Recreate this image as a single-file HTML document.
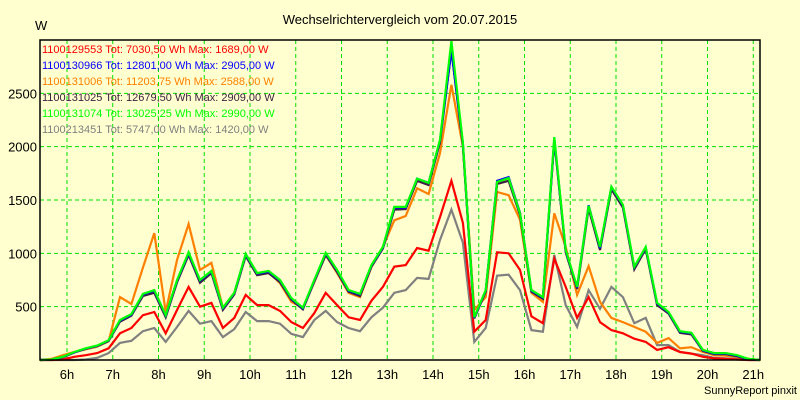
<!DOCTYPE html>
<html><head><meta charset="utf-8"><style>
html,body{margin:0;padding:0;background:#ffffd0;}
svg{display:block;font-family:"Liberation Sans",sans-serif;}
</style></head><body>
<svg id="chart" width="800" height="400" viewBox="0 0 800 400">
<rect x="0" y="0" width="800" height="400" fill="#ffffd0"/>
<text x="400" y="24" text-anchor="middle" font-size="13" fill="#000">Wechselrichtervergleich vom 20.07.2015</text>
<text x="35" y="30" font-size="13" fill="#000">W</text>
<text x="797" y="394" text-anchor="end" font-size="11" fill="#000">SunnyReport pinxit</text>
<g id="grid"></g>
<g id="series"></g>
<rect x="40" y="40" width="720" height="320" fill="none" stroke="#000" stroke-width="1.5"/>
<g id="axes"></g>
<g id="legend"></g>
</svg>
<script>
const yTicks = [500, 1000, 1500, 2000, 2500];
const hourTicks = [6,7,8,9,10,11,12,13,14,15,16,17,18,19,20,21];
const seriesNames = ["1100129553 Tot: 7030,50 Wh Max: 1689,00 W","1100130966 Tot: 12801,00 Wh Max: 2905,00 W","1100131006 Tot: 11203,75 Wh Max: 2588,00 W","1100131025 Tot: 12679,50 Wh Max: 2909,00 W","1100131074 Tot: 13025,25 Wh Max: 2990,00 W","1100213451 Tot: 5747,00 Wh Max: 1420,00 W"];
const seriesColors = ["#ff0000","#0000ff","#ff8000","#402040","#00ff00","#808080"];
const red = [0,0,5,30,45,65,110,250,300,420,450,250,470,685,500,535,300,395,610,515,515,460,355,300,440,630,515,400,375,555,685,875,890,1050,1025,1340,1680,1285,265,375,1010,1000,845,410,345,950,685,395,590,355,280,250,200,170,95,120,75,60,30,15,10,5,0,0];
const blue = [0,5,28,72,108,132,182,370,425,615,650,415,745,1000,745,830,485,625,990,810,830,745,575,485,745,1000,840,650,615,885,1055,1430,1430,1700,1660,2060,2905,2030,395,650,1680,1715,1380,650,585,2070,1025,680,1450,1050,1620,1450,870,1055,530,445,265,250,90,60,60,40,8,0];
const orange = [0,10,45,75,100,125,175,590,525,865,1190,450,940,1275,845,910,490,630,985,815,825,720,545,490,730,985,815,630,590,870,1060,1310,1350,1610,1555,1940,2580,2000,470,590,1575,1545,1315,630,545,1375,1060,610,880,545,395,355,310,265,160,205,110,120,75,45,40,30,10,0];
const dark = [0,3,25,70,105,130,178,360,415,600,630,400,730,985,725,815,470,615,975,795,815,730,565,475,735,985,825,640,600,875,1045,1410,1415,1680,1640,2040,2909,2010,390,640,1650,1680,1360,640,575,2060,1010,665,1420,1030,1600,1430,850,1040,515,435,255,240,85,55,55,35,5,0];
const green = [0,5,30,75,110,135,185,375,430,620,655,420,750,1010,750,835,490,630,995,815,835,750,580,490,750,1005,845,655,620,890,1060,1435,1435,1700,1660,2065,2990,2035,400,655,1670,1705,1375,655,590,2090,1030,685,1445,1060,1625,1455,875,1060,535,450,270,255,95,65,65,45,10,0];
const gray = [0,0,0,0,5,20,65,160,180,270,300,170,310,460,340,365,215,290,450,365,365,340,245,215,375,460,355,300,270,400,490,630,655,770,760,1125,1410,1100,170,300,790,800,655,280,265,985,515,310,655,480,685,590,345,395,140,140,75,60,45,20,15,10,0,0];

const NS = "http://www.w3.org/2000/svg";
const L = 40, R = 760, T = 40, B = 360, YMAX = 3000;
const xIdx = i => L + i * (R - L) / (green.length - 1);
const xHour = h => 67 + (h - 6) * 45.75;
const yVal = v => B - v * (B - T) / YMAX;
function mk(tag, attrs, parent){const e=document.createElementNS(NS,tag);for(const k in attrs)e.setAttribute(k,attrs[k]);parent.appendChild(e);return e;}
const grid=document.getElementById('grid'), axes=document.getElementById('axes'), sg=document.getElementById('series'), lg=document.getElementById('legend');
yTicks.forEach(v=>{
  const ln=mk('line',{x1:L,x2:R,y1:yVal(v),y2:yVal(v),stroke:'#00e000','stroke-dasharray':'4,3','stroke-width':1},grid);
  
  
  const t=mk('text',{x:37,y:yVal(v)+5,'text-anchor':'end','font-size':13,fill:'#000'},axes);
  t.textContent=v;
  
  
});
hourTicks.forEach(h=>{
  const ln=mk('line',{x1:xHour(h),x2:xHour(h),y1:T,y2:B,stroke:'#00e000','stroke-dasharray':'4,3','stroke-width':1},grid);
  
  
  const t=mk('text',{x:xHour(h),y:379,'text-anchor':'middle','font-size':13,fill:'#000'},axes);
  t.textContent=h+'h';
  
  
});
const order=[[gray,5],[red,0],[orange,2],[dark,3],[blue,1],[green,4]];
order.forEach(([arr,ci])=>{
  const pts=arr.map((v,i)=>xIdx(i).toFixed(1)+','+yVal(v).toFixed(1)).join(' ');
  const pl=mk('polyline',{points:pts,fill:'none',stroke:seriesColors[ci],'stroke-width':2.2,'stroke-linejoin':'miter'},sg);
  
  
});
seriesNames.forEach((n,i)=>{
  const t=mk('text',{x:42,y:53+i*16,'font-size':11,fill:seriesColors[i]},lg);
  t.textContent=n;
  
  
});
</script>
</body></html>
